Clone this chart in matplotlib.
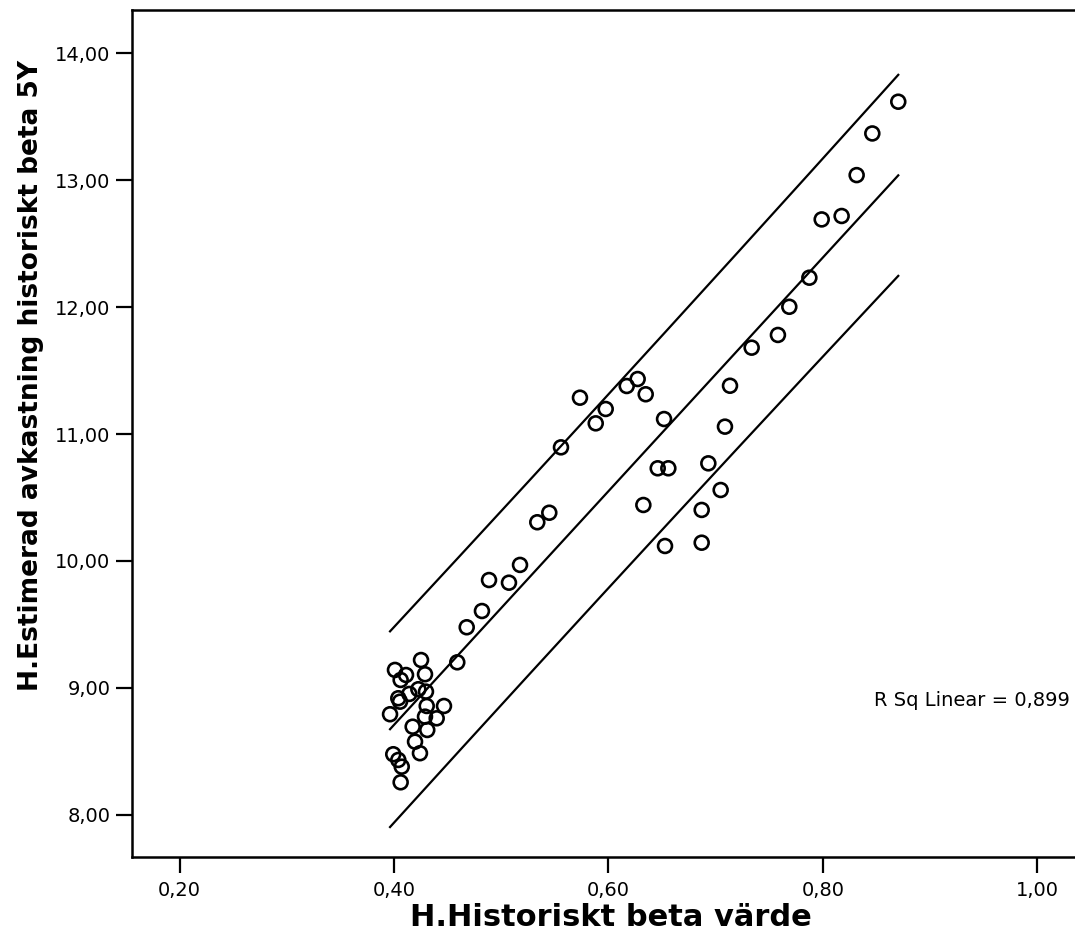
import numpy as np
import matplotlib
matplotlib.use("Agg")
import matplotlib.pyplot as plt
from matplotlib.ticker import FuncFormatter

plt.rcParams['font.family'] = ['DejaVu Sans']

# Data
beta = [0.4678, 0.4590, 0.4252, 0.4009, 0.4112, 0.4289, 0.4062, 0.4227, 0.4298, 0.4143,
        0.4040, 0.4056, 0.3963, 0.4305, 0.4466, 0.4289, 0.4398, 0.4174, 0.4310, 0.4196,
        0.4242, 0.3993, 0.4040, 0.4072, 0.4062,
        0.5734, 0.6272, 0.6170, 0.6347, 0.5974, 0.5881, 0.6518, 0.5557, 0.6459, 0.6558,
        0.6325, 0.6527, 0.5448, 0.5336, 0.5175, 0.4886, 0.5072, 0.4820,
        0.7335, 0.7133, 0.7086, 0.6931, 0.7046, 0.6869, 0.6869,
        0.8702, 0.8460, 0.8314, 0.8174, 0.7988, 0.7873, 0.7686, 0.7580]
avkastning = [9.478, 9.202, 9.220, 9.142, 9.102, 9.108, 9.063, 8.990, 8.971, 8.953,
              8.919, 8.892, 8.793, 8.858, 8.858, 8.774, 8.761, 8.695, 8.669, 8.577,
              8.486, 8.478, 8.433, 8.380, 8.257,
              11.286, 11.433, 11.378, 11.313, 11.197, 11.084, 11.118, 10.895, 10.730, 10.730,
              10.441, 10.118, 10.380, 10.305, 9.969, 9.850, 9.829, 9.606,
              11.680, 11.380, 11.058, 10.769, 10.559, 10.402, 10.144,
              13.617, 13.367, 13.039, 12.717, 12.690, 12.231, 12.002, 11.780]
r2_text = "R Sq Linear = 0,899"
x_ticks = [0.2, 0.4, 0.6, 0.8, 1.0]
y_ticks = [8, 9, 10, 11, 12, 13, 14]
t_crit = 1.65  # interval multiplier, matched to the drawn band

x = np.array(beta)
y = np.array(avkastning)
n = len(x)

# linear fit with prediction interval for individual values
b, a = np.polyfit(x, y, 1)
resid = y - (a + b * x)
s = np.sqrt(np.sum(resid**2) / (n - 2))
sxx = np.sum((x - x.mean())**2)
xs = np.linspace(x.min(), x.max(), 200)
fit = a + b * xs
half = t_crit * s * np.sqrt(1 + 1/n + (xs - x.mean())**2 / sxx)

fig = plt.figure(figsize=(10.75, 9.38), dpi=100)
ax = fig.add_axes([0.1228, 0.0864, 0.8772, 0.9029])

ax.scatter(x, y, s=10**2, facecolors='none', edgecolors='black', linewidths=1.9, zorder=3)
ax.plot(xs, fit, color='black', lw=1.6)
ax.plot(xs, fit + half, color='black', lw=1.6)
ax.plot(xs, fit - half, color='black', lw=1.6)

ax.set_xlim(0.1557, 1.035)
ax.set_ylim(7.669, 14.339)
ax.set_xticks(x_ticks)
ax.set_yticks(y_ticks)
fmt = FuncFormatter(lambda v, p: f"{v:.2f}".replace('.', ','))
ax.xaxis.set_major_formatter(fmt)
ax.yaxis.set_major_formatter(fmt)
ax.tick_params(direction='out', length=11.5, width=1.6, labelsize=14)
ax.tick_params(axis='x', pad=6)
ax.tick_params(axis='y', pad=4)

for side in ['left', 'bottom', 'top']:
    ax.spines[side].set_linewidth(1.8)
ax.spines['right'].set_visible(False)

ax.set_xlabel("H.Historiskt beta värde", fontsize=22, fontweight='bold')
ax.set_ylabel("H.Estimerad avkastning historiskt beta 5Y", fontsize=19, fontweight='bold')
ax.xaxis.set_label_coords(0.508, -0.054)
ax.yaxis.set_label_coords(-0.093, 0.569)

ax.text(0.995, 8.90, r2_text, fontsize=14, ha='right', va='center',
        transform=ax.get_yaxis_transform())

fig.savefig("out.png", dpi=100)
